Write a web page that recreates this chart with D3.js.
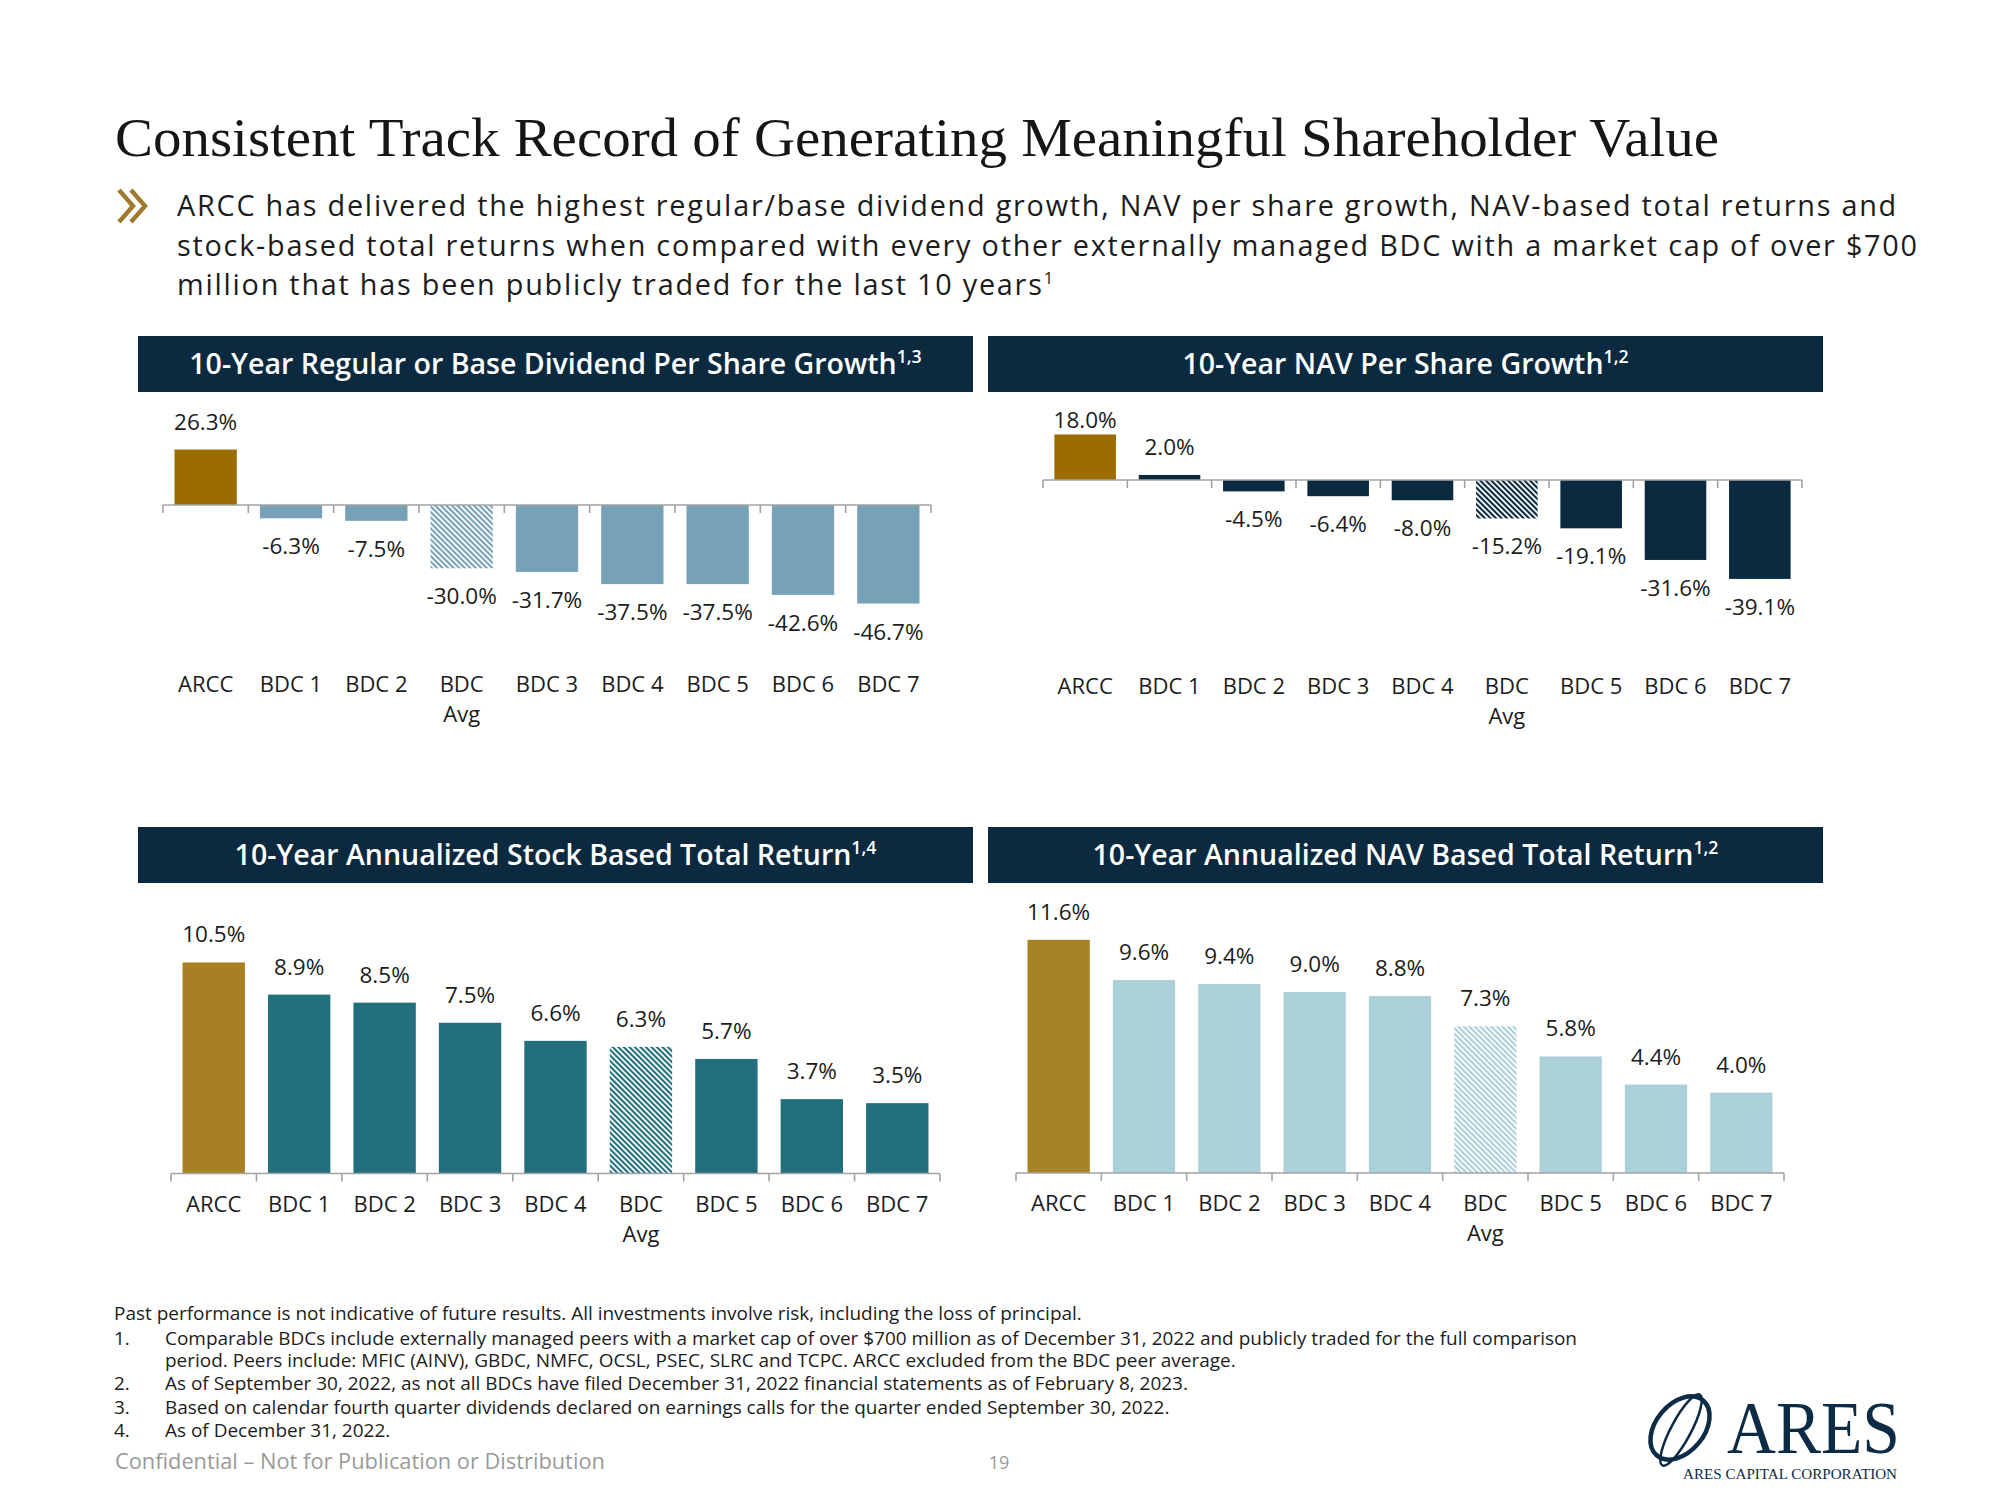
<!DOCTYPE html>
<html><head><meta charset="utf-8">
<script src="https://cdn.jsdelivr.net/npm/d3@7"></script>
<style>html,body{margin:0;padding:0;background:#fff}svg{display:block}</style>
</head><body>
<svg id="chart" width="2000" height="1500"></svg>
<script>
// ---------- DATA ----------
const titleText = "Consistent Track Record of Generating Meaningful Shareholder Value";
const bulletLines = [
  "ARCC has delivered the highest regular/base dividend growth, NAV per share growth, NAV-based total returns and",
  "stock-based total returns when compared with every other externally managed BDC with a market cap of over $700",
  "million that has been publicly traded for the last 10 years"
];
const chartTitles = [
  "10-Year Regular or Base Dividend Per Share Growth",
  "10-Year NAV Per Share Growth",
  "10-Year Annualized Stock Based Total Return",
  "10-Year Annualized NAV Based Total Return"
];
const chartTitleNotes = ["1,3", "1,2", "1,4", "1,2"];

const categoriesDividend = ["ARCC","BDC 1","BDC 2","BDC\nAvg","BDC 3","BDC 4","BDC 5","BDC 6","BDC 7"];
const valuesDividend = [26.3,-6.3,-7.5,-30.0,-31.7,-37.5,-37.5,-42.6,-46.7];

const categoriesNav = ["ARCC","BDC 1","BDC 2","BDC 3","BDC 4","BDC\nAvg","BDC 5","BDC 6","BDC 7"];
const valuesNav = [18.0,2.0,-4.5,-6.4,-8.0,-15.2,-19.1,-31.6,-39.1];

const categoriesStockTR = ["ARCC","BDC 1","BDC 2","BDC 3","BDC 4","BDC\nAvg","BDC 5","BDC 6","BDC 7"];
const valuesStockTR = [10.5,8.9,8.5,7.5,6.6,6.3,5.7,3.7,3.5];

const categoriesNavTR = ["ARCC","BDC 1","BDC 2","BDC 3","BDC 4","BDC\nAvg","BDC 5","BDC 6","BDC 7"];
const valuesNavTR = [11.6,9.6,9.4,9.0,8.8,7.3,5.8,4.4,4.0];

const footnoteIntro = "Past performance is not indicative of future results. All investments involve risk, including the loss of principal.";
const footnoteNums = ["1.", "", "2.", "3.", "4."];
const footnoteLines = [
  "Comparable BDCs include externally managed peers with a market cap of over $700 million as of December 31, 2022 and publicly traded for the full comparison",
  "period. Peers include: MFIC (AINV), GBDC, NMFC, OCSL, PSEC, SLRC and TCPC. ARCC excluded from the BDC peer average.",
  "As of September 30, 2022, as not all BDCs have filed December 31, 2022 financial statements as of February 8, 2023.",
  "Based on calendar fourth quarter dividends declared on earnings calls for the quarter ended September 30, 2022.",
  "As of December 31, 2022."
];
const confidentialText = "Confidential \u2013 Not for Publication or Distribution";
const pageNumber = "19";

// ---------- STYLE / LAYOUT ----------
const NAVY = "#0b2a3f";
const FONT = "'Open Sans', 'Noto Sans', sans-serif";
const SERIF = "'Liberation Serif', 'DejaVu Serif', serif";
const TEXT = "#1c1c1c";

const svg = d3.select("#chart");
svg.append("rect").attr("width",2000).attr("height",1500).attr("fill","#fff");

function fitSize(sel, target, base) {
  sel.attr("font-size", base);
  const w = sel.node().getComputedTextLength();
  return base * target / w;
}

// Title
const title = svg.append("text").attr("x",115).attr("y",156)
  .attr("font-family",SERIF).attr("fill","#161616").text(titleText);
title.attr("font-size", 54);
title.attr("textLength", 1604).attr("lengthAdjust","spacingAndGlyphs");

// Chevron
const chev = svg.append("g").attr("fill","none").attr("stroke","#a07a2c").attr("stroke-width",4.4);
chev.append("path").attr("d","M119,190 L133,206 L119,222");
chev.append("path").attr("d","M131,190 L145,206 L131,222");

// Bullet text
const bl = svg.append("g").attr("font-family",FONT).attr("fill",TEXT);
const bSize = 28.8;
const probe = bl.append("text").attr("font-size",bSize).text(bulletLines[0]);
const bw = probe.node().getComputedTextLength();
const bSpacing = (1721 - bw) / bulletLines[0].length;
probe.remove();
bulletLines.forEach((t,i) => {
  const tx = bl.append("text").attr("x",177).attr("y",216 + i*39.6).attr("font-size",bSize)
    .attr("letter-spacing",bSpacing).text(t);
  if (i === 2) tx.append("tspan").attr("font-size",bSize*0.58).attr("dy",-bSize*0.38).text("1");
});

// ---------- CHARTS ----------
const charts = [
  {cats:categoriesDividend, vals:valuesDividend, hx:138, hy:336, ax0:163, ax1:931, base:505, px:2.11,
   dom:[-50,30], arcc:"#9b6d00", bar:"#77a1b6", catY:684},
  {cats:categoriesNav, vals:valuesNav, hx:988, hy:336, ax0:1043, ax1:1802, base:480, px:2.53,
   dom:[-42,20], arcc:"#9b6d00", bar:"#0b2a3f", catY:686},
  {cats:categoriesStockTR, vals:valuesStockTR, hx:138, hy:827, ax0:171, ax1:940, base:1173.5, px:20.1,
   dom:[0,12], arcc:"#a88024", bar:"#236f7e", catY:1204},
  {cats:categoriesNavTR, vals:valuesNavTR, hx:988, hy:827, ax0:1016, ax1:1784, base:1173, px:20.1,
   dom:[0,12], arcc:"#a88226", bar:"#acd0d9", catY:1203}
];

const defs = svg.append("defs");
const fmtPct = v => d3.format(".1f")(v).replace("\u2212", "-") + "%";

// header font size from first header width
const hp = svg.append("text").attr("font-family",FONT).attr("font-weight",600);
hp.append("tspan").text(chartTitles[0]);
hp.append("tspan").attr("font-size","60%").text(chartTitleNotes[0]);
const hSize = fitSize(hp, 732, 24);
hp.remove();

charts.forEach((c, ci) => {
  const g = svg.append("g");
  // header
  g.append("rect").attr("x",c.hx).attr("y",c.hy).attr("width",835).attr("height",56).attr("fill",NAVY);
  const ht = g.append("text").attr("x",c.hx+835/2).attr("y",c.hy+28+hSize*0.36)
    .attr("text-anchor","middle").attr("font-family",FONT).attr("font-weight",600)
    .attr("font-size",hSize).attr("fill","#fff");
  ht.append("tspan").text(chartTitles[ci]);
  ht.append("tspan").attr("font-size",hSize*0.62).attr("dy",-hSize*0.38).text(chartTitleNotes[ci]);

  // pattern
  const pid = "hatch"+ci;
  const pat = defs.append("pattern").attr("id",pid).attr("patternUnits","userSpaceOnUse")
    .attr("width",3.9).attr("height",3.9).attr("patternTransform","rotate(-45)");
  pat.append("rect").attr("width",3.9).attr("height",3.9).attr("fill","#fff");
  pat.append("rect").attr("width",2.1).attr("height",3.9).attr("fill",c.bar);

  const x = d3.scaleBand().domain(c.cats).range([c.ax0, c.ax1]).paddingInner(0.27).paddingOuter(0.135);
  const y = d3.scaleLinear().domain(c.dom)
    .range([c.base - c.dom[0]*c.px, c.base - c.dom[1]*c.px]);

  const data = c.cats.map((k,i) => ({k, v:c.vals[i], i}));

  g.selectAll("rect.bar").data(data).join("rect").attr("class","bar")
    .attr("x", d => x(d.k))
    .attr("width", x.bandwidth())
    .attr("y", d => Math.min(y(d.v), y(0)))
    .attr("height", d => Math.abs(y(d.v) - y(0)))
    .attr("fill", d => d.i === 0 ? c.arcc : (d.k.indexOf("Avg") >= 0 ? `url(#${pid})` : c.bar));

  // axis line + boundary ticks
  const step = x.step();
  g.append("line").attr("x1",c.ax0).attr("x2",c.ax1).attr("y1",y(0)).attr("y2",y(0))
    .attr("stroke","#a3a3a3").attr("stroke-width",1.6);
  g.selectAll("line.tk").data(d3.range(c.cats.length+1)).join("line").attr("class","tk")
    .attr("x1", i => c.ax0 + i*step).attr("x2", i => c.ax0 + i*step)
    .attr("y1", y(0)).attr("y2", y(0)+8).attr("stroke","#a3a3a3").attr("stroke-width",1.6);

  // value labels
  const minY = c.hy + 56 + 28;
  g.selectAll("text.val").data(data).join("text").attr("class","val")
    .attr("x", d => x(d.k) + x.bandwidth()/2)
    .attr("y", d => (d.v >= 0 ? Math.max(y(d.v) - 28, minY) : y(d.v) + 28) + 8)
    .attr("text-anchor","middle").attr("font-family",FONT).attr("font-size",22.5).attr("fill",TEXT)
    .text(d => fmtPct(d.v));

  // category axis
  const axis = d3.axisBottom(x).tickSize(0).tickPadding(0);
  const ag = g.append("g").attr("transform",`translate(0,${c.catY - 8})`).call(axis);
  ag.select(".domain").remove();
  ag.selectAll("text").attr("font-family",FONT).attr("font-size",22).attr("fill",TEXT)
    .attr("dy",null).attr("y",0)
    .each(function(d){
      const t = d3.select(this); const parts = d.split("\n");
      t.text(null);
      parts.forEach((p,pi) => t.append("tspan").attr("x",0).attr("dy", pi===0 ? "0.72em" : "1.36em").text(p));
    });
});

// ---------- FOOTNOTES ----------
const fn = svg.append("g").attr("font-family",FONT).attr("fill",TEXT);
const fprobe = fn.append("text").text(footnoteLines[0]);
const fSize = fitSize(fprobe, 1413, 17);
fprobe.remove();
fn.append("text").attr("x",114).attr("y",1320).attr("font-size",fSize).text(footnoteIntro);
const fY = [1345, 1367, 1390, 1414, 1437];
footnoteLines.forEach((t,i) => {
  if (footnoteNums[i]) fn.append("text").attr("x",114).attr("y",fY[i]).attr("font-size",fSize).text(footnoteNums[i]);
  fn.append("text").attr("x",165).attr("y",fY[i]).attr("font-size",fSize).text(t);
});
const conf = svg.append("text").attr("x",115).attr("y",1469).attr("font-family",FONT).attr("fill","#9a9a9a").text(confidentialText);
conf.attr("font-size", fitSize(conf, 490, 18));
svg.append("text").attr("x",999).attr("y",1469).attr("text-anchor","middle").attr("font-family",FONT)
  .attr("font-size",18).attr("fill","#9a9a9a").text(pageNumber);

// ---------- LOGO ----------
const logo = svg.append("g").attr("fill","none").attr("stroke","#0d2b45");
logo.append("ellipse").attr("cx",1680).attr("cy",1428).attr("rx",36).attr("ry",24)
  .attr("transform","rotate(-50 1680 1428)").attr("stroke-width",4.5);
logo.append("ellipse").attr("cx",1681).attr("cy",1430).attr("rx",40).attr("ry",10)
  .attr("transform","rotate(-62 1681 1430)").attr("stroke-width",2.5);
svg.append("text").attr("x",1727).attr("y",1453).attr("font-family",SERIF).attr("font-size",74)
  .attr("fill","#0d2b45").attr("textLength",173).attr("lengthAdjust","spacingAndGlyphs").text("ARES");
svg.append("text").attr("x",1683).attr("y",1479).attr("font-family",SERIF).attr("font-size",14.5)
  .attr("fill","#0d2b45").attr("textLength",214).attr("lengthAdjust","spacingAndGlyphs").text("ARES CAPITAL CORPORATION");
</script>
</body></html>
